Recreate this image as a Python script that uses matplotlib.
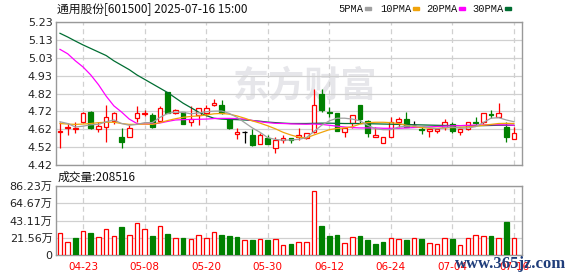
import matplotlib
matplotlib.use("Agg")
import matplotlib.pyplot as plt
import numpy as np
from matplotlib.patches import Rectangle

# daily k-line data, 60 trading days (2025-04-18 .. 2025-07-16)
opens = [4.605, 4.628, 4.623, 4.665, 4.720, 4.626, 4.633, 4.667, 4.579, 4.581,
         4.684, 4.707, 4.703, 4.671, 4.834, 4.716, 4.720, 4.665, 4.703, 4.713,
         4.758, 4.758, 4.681, 4.596, 4.605, 4.590, 4.539, 4.571, 4.514, 4.562,
         4.571, 4.577, 4.571, 4.609, 4.822, 4.720, 4.716, 4.605, 4.656, 4.760,
         4.667, 4.580, 4.543, 4.580, 4.665, 4.679, 4.645, 4.622, 4.614, 4.614,
         4.633, 4.650, 4.605, 4.626, 4.665, 4.665, 4.707, 4.694, 4.637, 4.565]
highs = [4.665, 4.656, 4.662, 4.720, 4.724, 4.665, 4.760, 4.718, 4.628, 4.647,
         4.754, 4.731, 4.713, 4.754, 4.834, 4.739, 4.720, 4.754, 4.741, 4.758,
         4.792, 4.788, 4.681, 4.628, 4.612, 4.622, 4.600, 4.590, 4.577, 4.590,
         4.571, 4.628, 4.600, 4.849, 4.849, 4.750, 4.716, 4.637, 4.701, 4.760,
         4.675, 4.637, 4.577, 4.690, 4.690, 4.718, 4.671, 4.637, 4.626, 4.628,
         4.681, 4.665, 4.622, 4.662, 4.694, 4.713, 4.731, 4.773, 4.662, 4.637]
lows = [4.514, 4.590, 4.600, 4.660, 4.626, 4.609, 4.552, 4.652, 4.514, 4.581,
        4.665, 4.700, 4.628, 4.665, 4.713, 4.707, 4.654, 4.643, 4.647, 4.700,
        4.754, 4.710, 4.624, 4.565, 4.543, 4.529, 4.539, 4.537, 4.490, 4.543,
        4.543, 4.562, 4.565, 4.603, 4.718, 4.694, 4.614, 4.580, 4.628, 4.660,
        4.580, 4.580, 4.543, 4.580, 4.637, 4.637, 4.641, 4.596, 4.580, 4.603,
        4.618, 4.603, 4.590, 4.618, 4.647, 4.650, 4.684, 4.694, 4.552, 4.565]
closes = [4.612, 4.637, 4.628, 4.714, 4.632, 4.641, 4.690, 4.715, 4.552, 4.628,
          4.714, 4.716, 4.633, 4.741, 4.716, 4.730, 4.654, 4.679, 4.741, 4.743,
          4.773, 4.713, 4.632, 4.605, 4.605, 4.533, 4.590, 4.537, 4.561, 4.571,
          4.562, 4.588, 4.600, 4.760, 4.732, 4.714, 4.614, 4.628, 4.701, 4.679,
          4.603, 4.590, 4.577, 4.665, 4.679, 4.637, 4.645, 4.618, 4.626, 4.622,
          4.662, 4.614, 4.622, 4.662, 4.658, 4.713, 4.701, 4.715, 4.580, 4.603]

# volume in 万 shares, and whether the bar is drawn red (1) or green (0)
volumes = [27.6, 16.2, 21.6, 29.8, 27.7, 22.4, 32.2, 24.0, 35.1, 24.8,
           39.6, 32.2, 24.0, 35.9, 26.5, 21.2, 21.2, 19.9, 24.8, 21.2,
           28.5, 25.3, 24.0, 22.8, 18.7, 19.1, 19.9, 19.1, 19.9, 12.6,
           13.4, 16.2, 16.2, 80.5, 36.7, 24.0, 25.3, 15.0, 22.4, 24.0,
           19.1, 14.2, 16.7, 21.2, 19.9, 19.1, 21.2, 20.3, 15.0, 13.8,
           21.2, 20.3, 12.6, 21.2, 25.3, 24.0, 24.0, 21.2, 41.2, 20.85]
vol_up = [1, 1, 0, 1, 0, 1, 1, 1, 0, 1, 1, 1, 0, 1, 0, 1, 0, 1, 1, 1,
          1, 0, 0, 0, 1, 0, 1, 0, 1, 1, 0, 1, 1, 1, 0, 0, 0, 1, 1, 0,
          0, 0, 0, 1, 1, 0, 1, 0, 1, 1, 1, 0, 1, 1, 1, 1, 0, 1, 0, 1]

# moving averages as shown on the chart
ma5 = [4.665, 4.655, 4.635, 4.640, 4.648, 4.650, 4.665, 4.675, 4.655, 4.645,
       4.650, 4.660, 4.660, 4.690, 4.712, 4.720, 4.718, 4.710, 4.715, 4.722,
       4.725, 4.726, 4.712, 4.690, 4.660, 4.630, 4.605, 4.575, 4.565, 4.560,
       4.562, 4.565, 4.575, 4.610, 4.645, 4.670, 4.685, 4.685, 4.680, 4.670,
       4.645, 4.625, 4.620, 4.620, 4.635, 4.640, 4.642, 4.640, 4.632, 4.625,
       4.632, 4.635, 4.628, 4.630, 4.637, 4.660, 4.685, 4.688, 4.675, 4.665]
ma10 = [4.655, 4.652, 4.650, 4.652, 4.655, 4.660, 4.662, 4.662, 4.655, 4.650,
        4.650, 4.652, 4.650, 4.660, 4.672, 4.682, 4.690, 4.695, 4.698, 4.703,
        4.710, 4.712, 4.708, 4.698, 4.685, 4.670, 4.657, 4.642, 4.625, 4.605,
        4.590, 4.578, 4.573, 4.590, 4.605, 4.620, 4.627, 4.630, 4.637, 4.652,
        4.660, 4.662, 4.662, 4.660, 4.655, 4.645, 4.638, 4.632, 4.628, 4.628,
        4.630, 4.632, 4.633, 4.636, 4.640, 4.645, 4.650, 4.655, 4.656, 4.655]
ma20 = [5.075, 5.050, 5.010, 4.975, 4.930, 4.875, 4.810, 4.755, 4.720, 4.680,
        4.655, 4.652, 4.652, 4.658, 4.667, 4.675, 4.677, 4.678, 4.679, 4.680,
        4.683, 4.684, 4.684, 4.683, 4.680, 4.672, 4.665, 4.660, 4.656, 4.655,
        4.653, 4.652, 4.651, 4.652, 4.650, 4.645, 4.640, 4.635, 4.632, 4.630,
        4.630, 4.630, 4.628, 4.628, 4.628, 4.630, 4.632, 4.634, 4.636, 4.638,
        4.640, 4.642, 4.643, 4.645, 4.646, 4.647, 4.648, 4.648, 4.647, 4.645]
ma30 = [5.166, 5.145, 5.122, 5.100, 5.080, 5.060, 5.040, 5.010, 4.985, 4.960,
        4.930, 4.905, 4.880, 4.855, 4.830, 4.800, 4.770, 4.745, 4.720, 4.700,
        4.685, 4.680, 4.678, 4.677, 4.675, 4.672, 4.668, 4.663, 4.660, 4.657,
        4.655, 4.655, 4.655, 4.656, 4.657, 4.657, 4.656, 4.655, 4.655, 4.655,
        4.654, 4.653, 4.652, 4.651, 4.650, 4.649, 4.648, 4.647, 4.646, 4.645,
        4.644, 4.644, 4.643, 4.643, 4.643, 4.643, 4.644, 4.645, 4.645, 4.645]

tick_pos = [3, 11, 19, 27, 35, 43, 51, 59]
tick_labels = ["04-23", "05-08", "05-20", "05-30", "06-12", "06-24", "07-04", "07-16"]
price_labels = ["4.42", "4.52", "4.62", "4.72", "4.82", "4.93", "5.03", "5.13", "5.23"]
vol_labels = ["0", "21.56万", "43.11万", "64.67万", "86.23万"]

UP = "#ff0000"
DOWN = "#008000"
GRID = "#d0d0d0"
EDGE = "#999999"
CJK = ["Noto Sans CJK SC", "DejaVu Sans"]
NUM = ["DejaVu Sans", "Noto Sans CJK SC"]

W, H = 578, 276
fig = plt.figure(figsize=(W / 100, H / 100), dpi=100)


def fx(px):
    return px / W


def fy(py):
    return 1 - py / H


ax = fig.add_axes([fx(56), fy(165), (522 - 56) / W, (165 - 22) / H])
axv = fig.add_axes([fx(56), fy(255), (522 - 56) / W, (255 - 186) / H])

x = np.arange(len(closes))

# candles
for i in x:
    o, h, l, c = opens[i], highs[i], lows[i], closes[i]
    if c > o:
        col = UP
    elif c < o:
        col = DOWN
    else:
        col = "black"
    ax.vlines(i, l, h, color=col, lw=0.9, zorder=2)
    if c == o:
        ax.hlines(o, i - 0.3, i + 0.3, color=col, lw=0.9, zorder=3)
    else:
        ax.bar(i, max(abs(c - o), 0.004), bottom=min(o, c), width=0.6,
               facecolor="white" if c > o else col, edgecolor=col, lw=0.9, zorder=3)

# moving averages
ax.plot(x, ma30, color="#006d32", lw=0.9, zorder=4)
ax.plot(x, ma20, color="#ff00ff", lw=0.9, zorder=4)
ax.plot(x, ma10, color="#f0a30a", lw=0.9, zorder=4)
ax.plot(x, ma5, color="#a0a0a0", lw=0.9, zorder=4)

# volume bars
for i in x:
    col = UP if vol_up[i] else DOWN
    axv.bar(i, volumes[i], width=0.6, facecolor="white" if vol_up[i] else col,
            edgecolor=col, lw=0.9, zorder=3)

for a in (ax, axv):
    a.set_xlim(-0.52, 60.04)
    a.set_xticks(tick_pos)
    a.grid(axis="x", color=GRID, lw=0.9, linestyle=(0, (4, 3)))
    a.grid(axis="y", color=GRID, lw=0.9, linestyle="-")
    a.set_axisbelow(True)
    a.tick_params(length=0, labelsize=8, pad=2.5)
    for s in a.spines.values():
        s.set_color(EDGE)
        s.set_linewidth(1)

ax.set_ylim(4.42, 5.23)
ax.set_yticks(np.linspace(4.42, 5.23, 9))
ax.set_yticklabels(price_labels, family=NUM, color="#222222")
ax.set_xticklabels([])

axv.set_ylim(0, 86.23)
axv.set_yticks(np.linspace(0, 86.23, 5))
axv.set_yticklabels(vol_labels, family=NUM, color="#222222")
axv.set_xticklabels(tick_labels, family=["DejaVu Sans"], fontsize=7.5, color="red")
axv.tick_params(axis="x", pad=5)

# watermark
ax.text(0.38, 0.55, "东方财富", transform=ax.transAxes, family=CJK, fontsize=26,
        fontweight="bold", color="#e6e6ea", ha="left", va="center", zorder=0)

# header texts
fig.text(fx(57), fy(9), "通用股份[601500] 2025-07-16 15:00", family=CJK, fontsize=8.5,
         va="center", ha="left", color="#111111")
fig.text(fx(58), fy(177), "成交量:208516", family=CJK, fontsize=8.5,
         va="center", ha="left", color="#111111")

legend = [("5PMA", 338, 365, "#a0a0a0"), ("10PMA", 380, 413, "#f0a30a"),
          ("20PMA", 426, 459, "#ff00ff"), ("30PMA", 472, 505, "#006d32")]
for name, tx, dx, col in legend:
    fig.text(fx(tx), fy(9), name, family=["Liberation Mono"], fontsize=7.5,
             va="center", ha="left", color="#111111")
    fig.patches.append(Rectangle((fx(dx), fy(10)), 6 / W, 3 / H, color=col,
                                 transform=fig.transFigure, figure=fig))

fig.text(fx(455), fy(264), "www.365jz.com", family=["Liberation Serif"], fontsize=12,
         fontweight="bold", color="#1f3d7a", va="center", ha="left", zorder=10)

fig.savefig("out.png", dpi=100)
